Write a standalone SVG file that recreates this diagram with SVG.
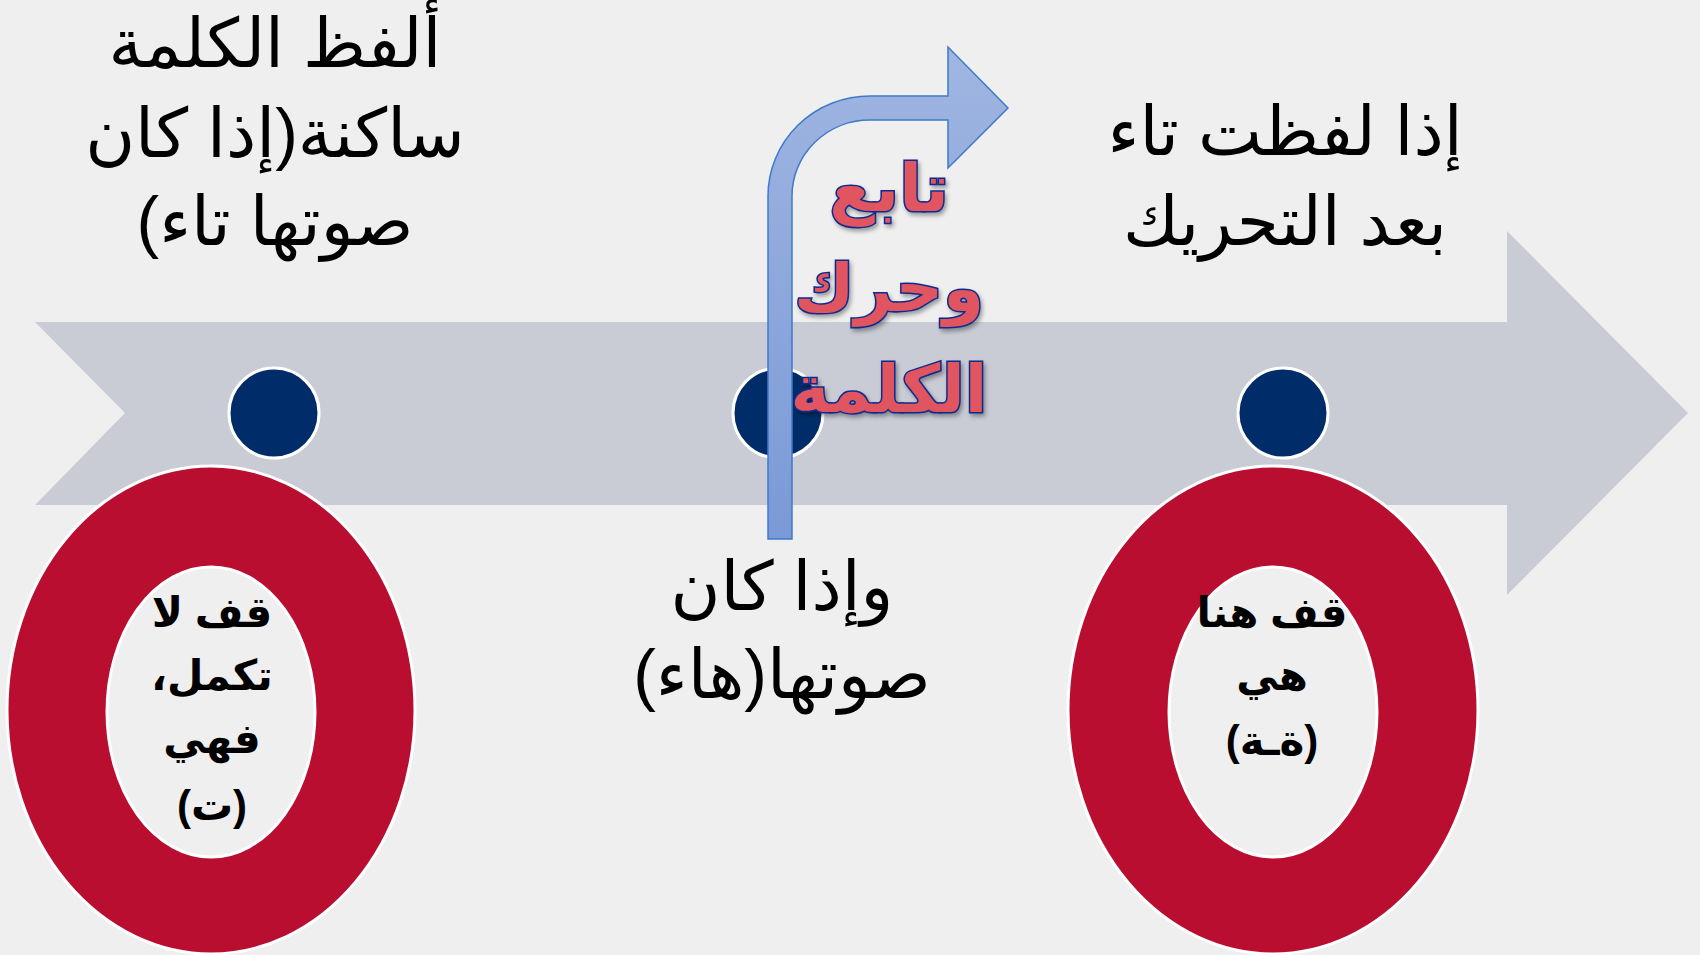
<svg xmlns="http://www.w3.org/2000/svg" width="1700" height="955" viewBox="0 0 1700 955">
<defs>
<linearGradient id="blueGrad" x1="0" y1="0" x2="0" y2="1">
<stop offset="0" stop-color="#A0B6E2"/>
<stop offset="1" stop-color="#7A99D6"/>
</linearGradient>
<filter id="shadow" x="-20%" y="-20%" width="140%" height="140%">
<feDropShadow dx="2" dy="3" stdDeviation="2" flood-color="#000" flood-opacity="0.35"/>
</filter>
<style>
.t{font-family:'Liberation Sans','DejaVu Sans',sans-serif;fill:#000;text-anchor:middle;direction:rtl}
.big{font-size:68px}
.inner{font-size:42px;font-weight:bold}
.red{font-family:'Liberation Sans','DejaVu Sans',sans-serif;font-size:66px;font-weight:bold;fill:#E15461;stroke:#0B2C8C;stroke-width:3;paint-order:stroke;text-anchor:middle;direction:rtl}
.dot{fill:#002D69;stroke:#FFFFFF;stroke-width:3}
.donut{fill:#BA0E31;stroke:#FFFFFF;stroke-width:3;fill-rule:evenodd}
</style>
</defs>
<rect width="1700" height="955" fill="#EFEFEF"/>
<g id="timeline">
<polygon points="35,322 1507,322 1507,231 1688,413 1507,595 1507,505 35,505 125,413" fill="#C9CCD4"/>
</g>
<g id="dot1"><circle class="dot" cx="274" cy="413" r="45"/></g>
<g id="dot2"><circle class="dot" cx="778" cy="413" r="45"/></g>
<g id="dot3"><circle class="dot" cx="1283" cy="413" r="45"/></g>
<g id="donut-left">
<path class="donut" d="M 7 710 A 204 244 0 1 0 415 710 A 204 244 0 1 0 7 710 Z M 107 712 A 104 145 0 1 1 315 712 A 104 145 0 1 1 107 712 Z"/>
<text class="t inner" x="212" y="627">قف لا</text>
<text class="t inner" x="212" y="690">تكمل،</text>
<text class="t inner" x="212" y="753">فهي</text>
<text class="t inner" x="212" y="820">(ت)</text>
</g>
<g id="donut-right">
<path class="donut" d="M 1068 710 A 205 244 0 1 0 1478 710 A 205 244 0 1 0 1068 710 Z M 1169 712 A 104 145 0 1 1 1377 712 A 104 145 0 1 1 1169 712 Z"/>
<text class="t inner" x="1272" y="627">قف هنا</text>
<text class="t inner" x="1272" y="690">هي</text>
<text class="t inner" x="1272" y="755">(ةـة)</text>
</g>
<g id="label-left">
<text class="t big" x="275" y="67">ألفظ الكلمة</text>
<text class="t big" x="275" y="157">ساكنة(إذا كان</text>
<text class="t big" x="275" y="245">صوتها تاء)</text>
</g>
<g id="label-right">
<text class="t big" x="1285" y="155">إذا لفظت تاء</text>
<text class="t big" x="1285" y="245">بعد التحريك</text>
</g>
<g id="label-middle">
<text class="t big" x="782" y="610">وإذا كان</text>
<text class="t big" x="782" y="698">صوتها(هاء)</text>
</g>
<g id="connectors">
<path d="M 768 539 L 768 196 A 102 100 0 0 1 870 96 L 948 96 L 948 47 L 1008 108 L 948 168 L 948 120 L 870 120 A 78 76 0 0 0 792 196 L 792 539 Z" fill="url(#blueGrad)" stroke="#3F7AC9" stroke-width="1.5"/>
</g>
<g id="bent-label" filter="url(#shadow)">
<text class="red" x="889" y="211">تابع</text>
<text class="red" x="889" y="311">وحرك</text>
<text class="red" x="889" y="412">الكلمة</text>
</g>
</svg>
